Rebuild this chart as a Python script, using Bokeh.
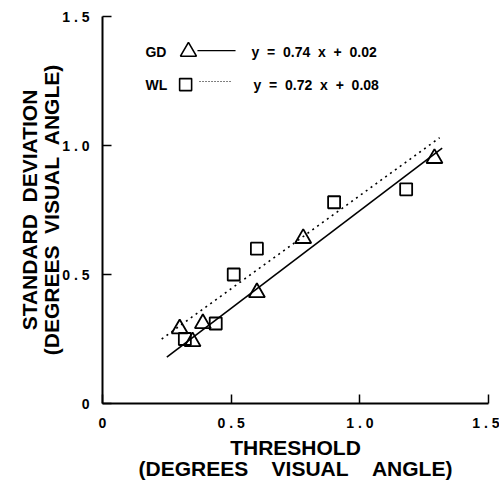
from bokeh.plotting import figure
from bokeh.models import Range1d, FixedTicker
from bokeh.core.properties import value
from bokeh.embed import file_html
from bokeh.resources import INLINE

# --- data ---
gd_x = [0.30, 0.35, 0.39, 0.60, 0.78, 1.29]
gd_y = [0.29, 0.24, 0.31, 0.43, 0.64, 0.95]
wl_x = [0.32, 0.44, 0.51, 0.60, 0.90, 1.18]
wl_y = [0.25, 0.31, 0.50, 0.60, 0.78, 0.83]

gd_fit_x = [0.25, 1.32]
gd_fit_y = [0.18, 0.99]
wl_fit_x = [0.23, 1.31]
wl_fit_y = [0.25, 1.03]

ticks = [0, 0.5, 1.0, 1.5]
tick_labels = ["0", "0 . 5", "1 . 0", "1 . 5"]
legend_names = ["GD", "WL"]
legend_eqs = ["y = 0.74 x + 0.02", "y = 0.72 x + 0.08"]

NB = "\u00a0"
def sp(s):
    return s.replace(" ", NB)

FONT = "'Liberation Sans', Arial, Helvetica, sans-serif"

p = figure(frame_width=386, frame_height=387, output_backend="svg",
           toolbar_location=None, x_range=Range1d(0, 1.5), y_range=Range1d(0, 1.5),
           min_border_left=102, min_border_right=11, min_border_top=16, min_border_bottom=82)
p.outline_line_color = None
p.grid.visible = False
p.background_fill_color = "white"
p.border_fill_color = "white"

for ax in (p.xaxis[0], p.yaxis[0]):
    ax.ticker = FixedTicker(ticks=ticks)
    ax.major_label_overrides = {t: sp(l) for t, l in zip(ticks, tick_labels)}
    ax.axis_line_width = 2
    ax.axis_line_color = "black"
    ax.major_tick_in = 9
    ax.major_tick_out = 0
    ax.major_tick_line_width = 1.5
    ax.minor_tick_line_color = None
    ax.major_label_text_font = FONT
    ax.major_label_text_font_style = "bold"
    ax.major_label_text_font_size = "14px"
    ax.major_label_text_color = "black"
    ax.axis_label_text_font = FONT
    ax.axis_label_text_font_style = "bold"
    ax.axis_label_text_font_size = "21px"
    ax.axis_label_text_color = "black"
    ax.axis_label_text_line_height = 0.95

p.xaxis.major_label_standoff = 11
p.yaxis.major_label_standoff = 13
p.xaxis.axis_label_standoff = 2
p.yaxis.axis_label_standoff = -4
p.xaxis.axis_label = "THRESHOLD\n" + sp("(DEGREES    VISUAL    ANGLE)")
p.yaxis.axis_label = sp("STANDARD  DEVIATION") + "\n" + sp("(DEGREES  VISUAL  ANGLE)")

# fit lines
p.line(gd_fit_x, gd_fit_y, line_color="black", line_width=1.6)
p.line(wl_fit_x, wl_fit_y, line_color="black", line_width=1.6, line_dash="2 4")

# points
p.scatter(gd_x, gd_y, marker="triangle", size=16, fill_color=None,
          line_color="black", line_width=1.8)
p.scatter(wl_x, wl_y, marker="square", size=12, fill_color=None,
          line_color="black", line_width=1.8)

# legend (manual, positioned in data space)
row_y = [1.364, 1.236]
p.text([0.167, 0.167], row_y, text=legend_names, text_font=value(FONT),
       text_font_style="bold", text_font_size="14px", text_baseline="middle",
       text_align="left", text_color="black")
p.scatter([0.334], [row_y[0]], marker="triangle", size=16, fill_color=None,
          line_color="black", line_width=1.6)
p.scatter([0.323], [row_y[1]], marker="square", size=12, fill_color=None,
          line_color="black", line_width=1.6)
p.line([0.369, 0.517], [row_y[0] + 0.004] * 2, line_color="black", line_width=1.2)
p.line([0.377, 0.505], [row_y[1] + 0.012] * 2, line_color="black", line_width=1.2,
       line_dash="1 2")
p.text([0.579, 0.587], row_y, text=[sp(e.replace(" ", "  ")) for e in legend_eqs],
       text_font=value(FONT), text_font_style="bold", text_font_size="14px",
       text_baseline="middle", text_align="left", text_color="black")

open("out.html", "w").write(file_html(p, INLINE))
